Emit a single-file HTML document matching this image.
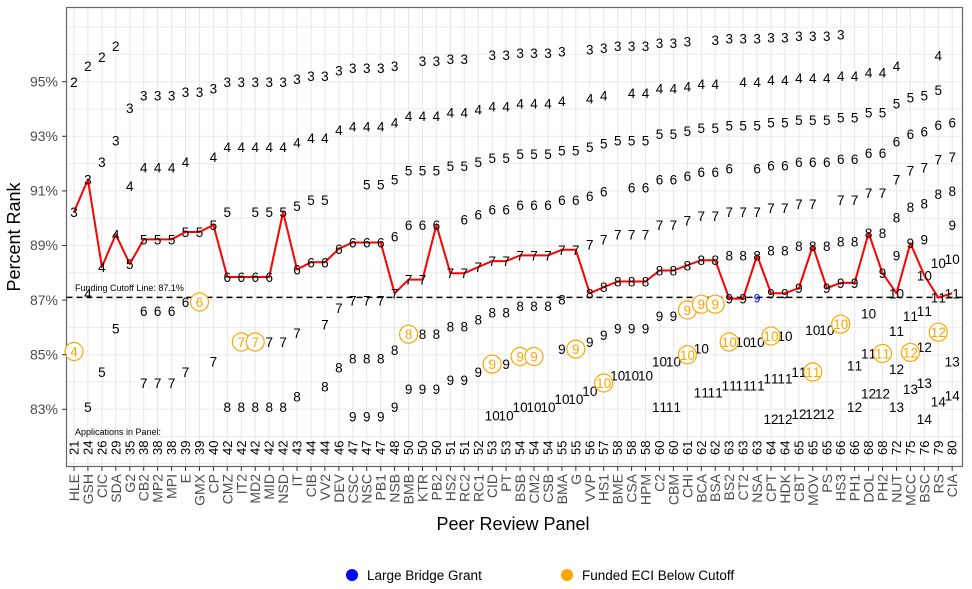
<!DOCTYPE html>
<html><head><meta charset="utf-8"><style>
html,body{margin:0;padding:0;background:#fff;}
svg{display:block;font-family:"Liberation Sans",Arial,sans-serif;}
.l{font-size:13.5px;fill:#000;text-anchor:middle;}
.o{font-size:13.5px;fill:#FFA500;text-anchor:middle;}
.ax{font-size:14px;fill:#4d4d4d;}
.n{font-size:13px;fill:#000;}
</style></head><body>
<svg width="972" height="589" viewBox="0 0 972 589" xmlns="http://www.w3.org/2000/svg">
<rect x="0" y="0" width="972" height="589" fill="#fff"/>
<g stroke="#ebebeb" stroke-width="1">
<line x1="66.5" x2="962.5" y1="27.1" y2="27.1"/><line x1="66.5" x2="962.5" y1="54.4" y2="54.4"/><line x1="66.5" x2="962.5" y1="81.7" y2="81.7"/><line x1="66.5" x2="962.5" y1="109" y2="109"/><line x1="66.5" x2="962.5" y1="136.3" y2="136.3"/><line x1="66.5" x2="962.5" y1="163.6" y2="163.6"/><line x1="66.5" x2="962.5" y1="190.9" y2="190.9"/><line x1="66.5" x2="962.5" y1="218.2" y2="218.2"/><line x1="66.5" x2="962.5" y1="245.5" y2="245.5"/><line x1="66.5" x2="962.5" y1="272.8" y2="272.8"/><line x1="66.5" x2="962.5" y1="300.1" y2="300.1"/><line x1="66.5" x2="962.5" y1="327.4" y2="327.4"/><line x1="66.5" x2="962.5" y1="354.7" y2="354.7"/><line x1="66.5" x2="962.5" y1="382" y2="382"/><line x1="66.5" x2="962.5" y1="409.3" y2="409.3"/><line x1="66.5" x2="962.5" y1="436.6" y2="436.6"/><line x1="66.5" x2="962.5" y1="463.9" y2="463.9"/>
</g>
<g stroke="#e6e6e6" stroke-width="1">
<line y1="7.5" y2="466.5" x1="74" x2="74"/><line y1="7.5" y2="466.5" x1="87.9" x2="87.9"/><line y1="7.5" y2="466.5" x1="101.9" x2="101.9"/><line y1="7.5" y2="466.5" x1="115.8" x2="115.8"/><line y1="7.5" y2="466.5" x1="129.8" x2="129.8"/><line y1="7.5" y2="466.5" x1="143.7" x2="143.7"/><line y1="7.5" y2="466.5" x1="157.6" x2="157.6"/><line y1="7.5" y2="466.5" x1="171.6" x2="171.6"/><line y1="7.5" y2="466.5" x1="185.5" x2="185.5"/><line y1="7.5" y2="466.5" x1="199.5" x2="199.5"/><line y1="7.5" y2="466.5" x1="213.4" x2="213.4"/><line y1="7.5" y2="466.5" x1="227.3" x2="227.3"/><line y1="7.5" y2="466.5" x1="241.3" x2="241.3"/><line y1="7.5" y2="466.5" x1="255.2" x2="255.2"/><line y1="7.5" y2="466.5" x1="269.2" x2="269.2"/><line y1="7.5" y2="466.5" x1="283.1" x2="283.1"/><line y1="7.5" y2="466.5" x1="297" x2="297"/><line y1="7.5" y2="466.5" x1="311" x2="311"/><line y1="7.5" y2="466.5" x1="324.9" x2="324.9"/><line y1="7.5" y2="466.5" x1="338.9" x2="338.9"/><line y1="7.5" y2="466.5" x1="352.8" x2="352.8"/><line y1="7.5" y2="466.5" x1="366.7" x2="366.7"/><line y1="7.5" y2="466.5" x1="380.7" x2="380.7"/><line y1="7.5" y2="466.5" x1="394.6" x2="394.6"/><line y1="7.5" y2="466.5" x1="408.6" x2="408.6"/><line y1="7.5" y2="466.5" x1="422.5" x2="422.5"/><line y1="7.5" y2="466.5" x1="436.4" x2="436.4"/><line y1="7.5" y2="466.5" x1="450.4" x2="450.4"/><line y1="7.5" y2="466.5" x1="464.3" x2="464.3"/><line y1="7.5" y2="466.5" x1="478.3" x2="478.3"/><line y1="7.5" y2="466.5" x1="492.2" x2="492.2"/><line y1="7.5" y2="466.5" x1="506.1" x2="506.1"/><line y1="7.5" y2="466.5" x1="520.1" x2="520.1"/><line y1="7.5" y2="466.5" x1="534" x2="534"/><line y1="7.5" y2="466.5" x1="548" x2="548"/><line y1="7.5" y2="466.5" x1="561.9" x2="561.9"/><line y1="7.5" y2="466.5" x1="575.8" x2="575.8"/><line y1="7.5" y2="466.5" x1="589.8" x2="589.8"/><line y1="7.5" y2="466.5" x1="603.7" x2="603.7"/><line y1="7.5" y2="466.5" x1="617.7" x2="617.7"/><line y1="7.5" y2="466.5" x1="631.6" x2="631.6"/><line y1="7.5" y2="466.5" x1="645.5" x2="645.5"/><line y1="7.5" y2="466.5" x1="659.5" x2="659.5"/><line y1="7.5" y2="466.5" x1="673.4" x2="673.4"/><line y1="7.5" y2="466.5" x1="687.4" x2="687.4"/><line y1="7.5" y2="466.5" x1="701.3" x2="701.3"/><line y1="7.5" y2="466.5" x1="715.2" x2="715.2"/><line y1="7.5" y2="466.5" x1="729.2" x2="729.2"/><line y1="7.5" y2="466.5" x1="743.1" x2="743.1"/><line y1="7.5" y2="466.5" x1="757.1" x2="757.1"/><line y1="7.5" y2="466.5" x1="771" x2="771"/><line y1="7.5" y2="466.5" x1="784.9" x2="784.9"/><line y1="7.5" y2="466.5" x1="798.9" x2="798.9"/><line y1="7.5" y2="466.5" x1="812.8" x2="812.8"/><line y1="7.5" y2="466.5" x1="826.8" x2="826.8"/><line y1="7.5" y2="466.5" x1="840.7" x2="840.7"/><line y1="7.5" y2="466.5" x1="854.6" x2="854.6"/><line y1="7.5" y2="466.5" x1="868.6" x2="868.6"/><line y1="7.5" y2="466.5" x1="882.5" x2="882.5"/><line y1="7.5" y2="466.5" x1="896.5" x2="896.5"/><line y1="7.5" y2="466.5" x1="910.4" x2="910.4"/><line y1="7.5" y2="466.5" x1="924.3" x2="924.3"/><line y1="7.5" y2="466.5" x1="938.3" x2="938.3"/><line y1="7.5" y2="466.5" x1="952.2" x2="952.2"/>
</g>
<rect x="66.5" y="7.5" width="896" height="459" fill="none" stroke="#666" stroke-width="1.2"/>
<line x1="66.5" x2="962.5" y1="297.4" y2="297.4" stroke="#000" stroke-width="1.5" stroke-dasharray="6,4"/>
<text x="75" y="291" style="font-size:9px" fill="#000">Funding Cutoff Line: 87.1%</text>
<text x="75" y="435" style="font-size:9px" fill="#000">Applications in Panel:</text>
<polyline fill="none" stroke="#ff0000" stroke-width="2" stroke-linejoin="round" points="74,212 87.9,179.5 101.9,267 115.8,234.4 129.8,264 143.7,239.4 157.6,239.4 171.6,239.4 185.5,232 199.5,232 213.4,225 227.3,277 241.3,277 255.2,277 269.2,277 283.1,212 297,269.5 311,262.25 324.9,262.25 338.9,248.75 352.8,242.45 366.7,242.45 380.7,242.45 394.6,293.3 408.6,279.6 422.5,279.6 436.4,225 450.4,273.2 464.3,273.2 478.3,267 492.2,261.1 506.1,261.1 520.1,255.4 534,255.4 548,255.4 561.9,249.8 575.8,249.8 589.8,293.25 603.7,287.2 617.7,281.5 631.6,281.5 645.5,281.5 659.5,270.5 673.4,270.5 687.4,265.25 701.3,260.2 715.2,260.2 729.2,298.6 743.1,298.6 757.1,255.3 771,293.3 784.9,293.3 798.9,288 812.8,246 826.8,288 840.7,282.9 854.6,282.9 868.6,233 882.5,273.2 896.5,293.3 910.4,243.2 924.3,275.3 938.3,297.6 952.2,293.25"/>
<text class="l" x="74 87.9 101.9 115.8" y="87 70.8 62 51.1">2222</text>
<text class="l" x="74 87.9 101.9 115.8 129.8 143.7 157.6 171.6 185.5 199.5 213.4 227.3 241.3 255.2 269.2 283.1 297 311 324.9 338.9 352.8 366.7 380.7 394.6 422.5 436.4 450.4 464.3 492.2 506.1 520.1 534 548 561.9 589.8 603.7 617.7 631.6 645.5 659.5 673.4 687.4 715.2 729.2 743.1 757.1 771 784.9 798.9 812.8 826.8 840.7" y="217 184.5 167 145.3 113 100.7 100.7 100.7 97 97 93.5 87 87 87 87 87 84 81.1 81.1 75.7 73.2 73.2 73.2 70.8 66.2 66.2 64.1 64.1 60 60 58.1 58.1 58.1 56.3 54.5 52.8 51.1 51.1 51.1 48 48 46.5 45.1 43.7 43.7 43.7 42.3 42.3 41 41 41 39.7">3333333333333333333333333333333333333333333333333333</text>
<text class="l" x="87.9 101.9 115.8 129.8 143.7 157.6 171.6 185.5 213.4 227.3 241.3 255.2 269.2 283.1 297 311 324.9 338.9 352.8 366.7 380.7 394.6 408.6 422.5 436.4 450.4 464.3 478.3 492.2 506.1 520.1 534 548 561.9 589.8 603.7 631.6 645.5 659.5 673.4 687.4 701.3 715.2 743.1 757.1 771 784.9 798.9 812.8 826.8 840.7 854.6 868.6 882.5 896.5 938.3" y="298.3 272 239.4 191 172.5 172.5 172.5 167 161.8 152 152 152 152 152 147.5 143.2 143.2 135 131.3 131.3 131.3 127.6 120.8 120.8 120.8 117.6 117.6 114.5 111.5 111.5 108.7 108.7 108.7 105.9 103.3 100.7 98.2 98.2 93.5 93.5 91.3 89.1 89.1 87 87 85 85 83 83 83 81.1 81.1 77.5 77.5 70.8 60.7">44444444444444444444444444444444444444444444444444444444</text>
<text class="l" x="87.9 101.9 115.8 129.8 143.7 157.6 171.6 185.5 199.5 213.4 227.3 255.2 269.2 283.1 297 311 324.9 366.7 380.7 394.6 408.6 422.5 436.4 450.4 464.3 478.3 492.2 506.1 520.1 534 548 561.9 575.8 589.8 603.7 617.7 631.6 645.5 659.5 673.4 687.4 701.3 715.2 729.2 743.1 757.1 771 784.9 798.9 812.8 826.8 840.7 854.6 868.6 882.5 896.5 910.4 924.3 938.3" y="412 377 333.6 269 244.4 244.4 244.4 237 237 230 217 217 217 217 211 205.2 205.2 189.4 189.4 184.5 175.4 175.4 175.4 171.1 171.1 167 163 163 159.2 159.2 159.2 155.6 155.6 152 148.6 145.3 145.3 145.3 139 139 136 133.1 133.1 130.3 130.3 130.3 127.6 127.6 125 125 125 122.4 122.4 117.6 117.6 108.7 102.6 100.7 95.2">55555555555555555555555555555555555555555555555555555555555</text>
<text class="l" x="143.7 157.6 171.6 185.5 227.3 241.3 255.2 269.2 297 311 324.9 338.9 352.8 366.7 380.7 394.6 408.6 422.5 436.4 464.3 478.3 492.2 506.1 520.1 534 548 561.9 575.8 589.8 603.7 631.6 645.5 659.5 673.4 687.4 701.3 715.2 729.2 757.1 771 784.9 798.9 812.8 826.8 840.7 854.6 868.6 882.5 896.5 910.4 924.3 938.3 952.2" y="316.2 316.2 316.2 307 282 282 282 282 274.5 267.3 267.3 253.8 247.5 247.5 247.5 241.4 230 230 230 224.7 219.5 214.6 214.6 209.8 209.8 209.8 205.2 205.2 200.8 196.5 192.4 192.4 184.5 184.5 180.8 177.2 177.2 173.7 173.7 170.3 170.3 167 167 167 163.8 163.8 157.8 157.8 146.6 139 136.6 129.8 127.6">66666666666666666666666666666666666666666666666666666</text>
<text class="l" x="143.7 157.6 171.6 185.5 213.4 269.2 283.1 297 324.9 338.9 352.8 366.7 380.7 394.6 408.6 422.5 450.4 464.3 478.3 492.2 506.1 520.1 534 548 561.9 575.8 589.8 603.7 617.7 631.6 645.5 659.5 673.4 687.4 701.3 715.2 729.2 743.1 757.1 771 784.9 798.9 812.8 840.7 854.6 868.6 882.5 896.5 910.4 924.3 938.3 952.2" y="388 388 388 377 366.5 347 347 338 329.3 313.1 305.5 305.5 305.5 298.3 284.6 284.6 278.2 278.2 272 266.1 266.1 260.4 260.4 260.4 254.8 254.8 249.5 244.3 239.4 239.4 239.4 230 230 225.5 221.2 221.2 217 217 217 213 213 209 209 205.2 205.2 197.9 197.9 184.5 175.4 172.5 164.4 161.8">7777777777777777777777777777777777777777777777777777</text>
<text class="l" x="227.3 241.3 255.2 269.2 283.1 297 324.9 338.9 352.8 366.7 380.7 394.6 422.5 436.4 450.4 464.3 478.3 492.2 506.1 520.1 534 548 561.9 589.8 603.7 617.7 631.6 645.5 659.5 673.4 687.4 701.3 715.2 729.2 743.1 757.1 771 784.9 798.9 812.8 826.8 840.7 854.6 868.6 882.5 896.5 910.4 924.3 938.3 952.2" y="412 412 412 412 412 401.4 391.4 372.5 363.6 363.6 363.6 355.2 339.2 339.2 331.7 331.7 324.5 317.6 317.6 310.9 310.9 310.9 304.5 298.3 292.2 286.5 286.5 286.5 275.5 275.5 270.3 265.2 265.2 260.3 260.3 260.3 255.6 255.6 251 251 251 246.5 246.5 238 238 222.4 211.8 208.4 198.9 195.9">88888888888888888888888888888888888888888888888888</text>
<text class="l" x="352.8 366.7 380.7 394.6 408.6 422.5 436.4 450.4 464.3 478.3 506.1 561.9 589.8 603.7 617.7 631.6 645.5 659.5 673.4 729.2 743.1 771 784.9 798.9 826.8 840.7 854.6 882.5 896.5 910.4 924.3 952.2" y="421.7 421.7 421.7 412 393.8 393.8 393.8 385.2 385.2 377 369.1 354.1 347 340.1 333.6 333.6 333.6 321 321 303.6 303.6 298.3 298.3 293 293 287.9 287.9 278.2 260.4 248.2 244.4 230">99999999999999999999999999999999</text>
<text class="l" x="488.4 496 502.3 509.9 516.3 523.9 530.2 537.8 544.2 551.8 558.1 565.7 572 579.6 586 593.6 613.9 621.5 627.8 635.4 641.7 649.3 655.7 663.3 669.6 677.2 697.5 705.1 739.3 746.9 753.3 760.9 781.1 788.7 809 816.6 823 830.6 864.8 872.4 892.7 900.3 920.5 928.1 934.5 942.1 948.4 956" y="420.6 420.6 420.6 420.6 412 412 412 412 412 412 403.8 403.8 403.8 403.8 395.75 395.75 380.6 380.6 380.6 380.6 380.6 380.6 366.5 366.5 366.5 366.5 353.3 353.3 347 347 347 347 341 341 335 335 335 335 318.4 318.4 298.3 298.3 280.3 280.3 268 268 264.1 264.1">101010101010101010101010101010101010101010101010</text>
<text class="l" x="655.7 663.3 669.6 677.2 697.5 705.1 711.4 719 725.4 733 739.3 746.9 753.3 760.9 767.2 774.8 781.1 788.7 795.1 802.7 850.8 858.4 864.8 872.4 892.7 900.3 906.6 914.2 920.5 928.1 934.5 942.1 948.4 956" y="412 412 412 412 397.3 397.3 397.3 397.3 390.3 390.3 390.3 390.3 390.3 390.3 383.6 383.6 383.6 383.6 377 377 370.6 370.6 358.5 358.5 336.2 336.2 321 321 316.2 316.2 302.6 302.6 298.25 298.25">1111111111111111111111111111111111</text>
<text class="l" x="767.2 774.8 781.1 788.7 795.1 802.7 809 816.6 823 830.6 850.8 858.4 864.8 872.4 878.7 886.3 892.7 900.3 920.5 928.1" y="424 424 424 424 419 419 419 419 419 419 412 412 398.6 398.6 398.6 398.6 374.1 374.1 352.1 352.1">12121212121212121212</text>
<text class="l" x="892.7 900.3 906.6 914.2 920.5 928.1 948.4 956" y="412 412 393.8 393.8 388 388 366.5 366.5">13131313</text>
<text class="l" x="920.5 928.1 934.5 942.1 948.4 956" y="424 424 406.3 406.3 400.6 400.6">141414</text>
<g fill="#fff" stroke="#FFA500" stroke-width="1.2">
<circle cx="74" cy="351.5" r="9"/><circle cx="199.5" cy="302" r="9"/><circle cx="241.3" cy="342" r="9"/><circle cx="255.2" cy="342" r="9"/><circle cx="408.6" cy="334.2" r="9"/><circle cx="492.2" cy="364.1" r="9"/><circle cx="520.1" cy="356.5" r="9"/><circle cx="534" cy="356.5" r="9"/><circle cx="575.8" cy="349.1" r="9"/><circle cx="603.7" cy="383" r="9"/><circle cx="687.4" cy="310" r="9"/><circle cx="701.3" cy="304.2" r="9"/><circle cx="715.2" cy="304.2" r="9"/><circle cx="687.4" cy="354.75" r="9"/><circle cx="729.2" cy="342" r="9"/><circle cx="771" cy="336" r="9"/><circle cx="840.7" cy="324.2" r="9"/><circle cx="812.8" cy="372" r="9"/><circle cx="882.5" cy="353.5" r="9"/><circle cx="910.4" cy="352.4" r="9"/><circle cx="938.3" cy="332.2" r="9"/>
</g>
<text class="o" x="74 199.5 241.3 255.2 408.6 492.2 520.1 534 575.8 687.4 701.3 715.2" y="356.5 307 347 347 339.2 369.1 361.5 361.5 354.1 315 309.2 309.2">467789999999</text>
<text class="o" x="599.9 607.5 683.6 691.2 725.4 733 767.2 774.8 837 844.5 809 816.6 878.7 886.3 906.6 914.2 934.5 942.1" y="388 388 359.75 359.75 347 347 341 341 329.2 329.2 377 377 358.5 358.5 357.4 357.4 337.2 337.2">101010101011111212</text>
<text x="757.1" y="302.6" style="font-size:12px" fill="#0000ff" text-anchor="middle">9</text>
<g stroke="#333" stroke-width="1">
<line x1="62" x2="66.5" y1="81.7" y2="81.7"/><line x1="62" x2="66.5" y1="136.3" y2="136.3"/><line x1="62" x2="66.5" y1="190.9" y2="190.9"/><line x1="62" x2="66.5" y1="245.5" y2="245.5"/><line x1="62" x2="66.5" y1="300.1" y2="300.1"/><line x1="62" x2="66.5" y1="354.7" y2="354.7"/><line x1="62" x2="66.5" y1="409.3" y2="409.3"/>
</g>
<g class="ax" text-anchor="end">
<text x="58" y="86.5">95%</text><text x="58" y="141">93%</text><text x="58" y="195.6">91%</text><text x="58" y="250.2">89%</text><text x="58" y="304.8">87%</text><text x="58" y="359.4">85%</text><text x="58" y="414">83%</text>
</g>
<g stroke="#333" stroke-width="1">
<line y1="466.5" y2="471" x1="74" x2="74"/><line y1="466.5" y2="471" x1="87.9" x2="87.9"/><line y1="466.5" y2="471" x1="101.9" x2="101.9"/><line y1="466.5" y2="471" x1="115.8" x2="115.8"/><line y1="466.5" y2="471" x1="129.8" x2="129.8"/><line y1="466.5" y2="471" x1="143.7" x2="143.7"/><line y1="466.5" y2="471" x1="157.6" x2="157.6"/><line y1="466.5" y2="471" x1="171.6" x2="171.6"/><line y1="466.5" y2="471" x1="185.5" x2="185.5"/><line y1="466.5" y2="471" x1="199.5" x2="199.5"/><line y1="466.5" y2="471" x1="213.4" x2="213.4"/><line y1="466.5" y2="471" x1="227.3" x2="227.3"/><line y1="466.5" y2="471" x1="241.3" x2="241.3"/><line y1="466.5" y2="471" x1="255.2" x2="255.2"/><line y1="466.5" y2="471" x1="269.2" x2="269.2"/><line y1="466.5" y2="471" x1="283.1" x2="283.1"/><line y1="466.5" y2="471" x1="297" x2="297"/><line y1="466.5" y2="471" x1="311" x2="311"/><line y1="466.5" y2="471" x1="324.9" x2="324.9"/><line y1="466.5" y2="471" x1="338.9" x2="338.9"/><line y1="466.5" y2="471" x1="352.8" x2="352.8"/><line y1="466.5" y2="471" x1="366.7" x2="366.7"/><line y1="466.5" y2="471" x1="380.7" x2="380.7"/><line y1="466.5" y2="471" x1="394.6" x2="394.6"/><line y1="466.5" y2="471" x1="408.6" x2="408.6"/><line y1="466.5" y2="471" x1="422.5" x2="422.5"/><line y1="466.5" y2="471" x1="436.4" x2="436.4"/><line y1="466.5" y2="471" x1="450.4" x2="450.4"/><line y1="466.5" y2="471" x1="464.3" x2="464.3"/><line y1="466.5" y2="471" x1="478.3" x2="478.3"/><line y1="466.5" y2="471" x1="492.2" x2="492.2"/><line y1="466.5" y2="471" x1="506.1" x2="506.1"/><line y1="466.5" y2="471" x1="520.1" x2="520.1"/><line y1="466.5" y2="471" x1="534" x2="534"/><line y1="466.5" y2="471" x1="548" x2="548"/><line y1="466.5" y2="471" x1="561.9" x2="561.9"/><line y1="466.5" y2="471" x1="575.8" x2="575.8"/><line y1="466.5" y2="471" x1="589.8" x2="589.8"/><line y1="466.5" y2="471" x1="603.7" x2="603.7"/><line y1="466.5" y2="471" x1="617.7" x2="617.7"/><line y1="466.5" y2="471" x1="631.6" x2="631.6"/><line y1="466.5" y2="471" x1="645.5" x2="645.5"/><line y1="466.5" y2="471" x1="659.5" x2="659.5"/><line y1="466.5" y2="471" x1="673.4" x2="673.4"/><line y1="466.5" y2="471" x1="687.4" x2="687.4"/><line y1="466.5" y2="471" x1="701.3" x2="701.3"/><line y1="466.5" y2="471" x1="715.2" x2="715.2"/><line y1="466.5" y2="471" x1="729.2" x2="729.2"/><line y1="466.5" y2="471" x1="743.1" x2="743.1"/><line y1="466.5" y2="471" x1="757.1" x2="757.1"/><line y1="466.5" y2="471" x1="771" x2="771"/><line y1="466.5" y2="471" x1="784.9" x2="784.9"/><line y1="466.5" y2="471" x1="798.9" x2="798.9"/><line y1="466.5" y2="471" x1="812.8" x2="812.8"/><line y1="466.5" y2="471" x1="826.8" x2="826.8"/><line y1="466.5" y2="471" x1="840.7" x2="840.7"/><line y1="466.5" y2="471" x1="854.6" x2="854.6"/><line y1="466.5" y2="471" x1="868.6" x2="868.6"/><line y1="466.5" y2="471" x1="882.5" x2="882.5"/><line y1="466.5" y2="471" x1="896.5" x2="896.5"/><line y1="466.5" y2="471" x1="910.4" x2="910.4"/><line y1="466.5" y2="471" x1="924.3" x2="924.3"/><line y1="466.5" y2="471" x1="938.3" x2="938.3"/><line y1="466.5" y2="471" x1="952.2" x2="952.2"/>
</g>
<g class="ax" text-anchor="end">
<text transform="translate(79,474) rotate(-90)">HLE</text><text transform="translate(92.9,474) rotate(-90)">GSH</text><text transform="translate(106.9,474) rotate(-90)">CIC</text><text transform="translate(120.8,474) rotate(-90)">SDA</text><text transform="translate(134.8,474) rotate(-90)">G2</text><text transform="translate(148.7,474) rotate(-90)">CB2</text><text transform="translate(162.6,474) rotate(-90)">MP2</text><text transform="translate(176.6,474) rotate(-90)">MPI</text><text transform="translate(190.5,474) rotate(-90)">E</text><text transform="translate(204.5,474) rotate(-90)">GMX</text><text transform="translate(218.4,474) rotate(-90)">CP</text><text transform="translate(232.3,474) rotate(-90)">CMZ</text><text transform="translate(246.3,474) rotate(-90)">IT2</text><text transform="translate(260.2,474) rotate(-90)">MD2</text><text transform="translate(274.2,474) rotate(-90)">MID</text><text transform="translate(288.1,474) rotate(-90)">NSD</text><text transform="translate(302,474) rotate(-90)">IT</text><text transform="translate(316,474) rotate(-90)">CIB</text><text transform="translate(329.9,474) rotate(-90)">VV2</text><text transform="translate(343.9,474) rotate(-90)">DEV</text><text transform="translate(357.8,474) rotate(-90)">CSC</text><text transform="translate(371.7,474) rotate(-90)">NSC</text><text transform="translate(385.7,474) rotate(-90)">PB1</text><text transform="translate(399.6,474) rotate(-90)">NSB</text><text transform="translate(413.6,474) rotate(-90)">BMB</text><text transform="translate(427.5,474) rotate(-90)">KTR</text><text transform="translate(441.4,474) rotate(-90)">PB2</text><text transform="translate(455.4,474) rotate(-90)">HS2</text><text transform="translate(469.3,474) rotate(-90)">RC2</text><text transform="translate(483.3,474) rotate(-90)">RC1</text><text transform="translate(497.2,474) rotate(-90)">CID</text><text transform="translate(511.1,474) rotate(-90)">PT</text><text transform="translate(525.1,474) rotate(-90)">BSB</text><text transform="translate(539,474) rotate(-90)">CM2</text><text transform="translate(553,474) rotate(-90)">CSB</text><text transform="translate(566.9,474) rotate(-90)">BMA</text><text transform="translate(580.8,474) rotate(-90)">G</text><text transform="translate(594.8,474) rotate(-90)">VVP</text><text transform="translate(608.7,474) rotate(-90)">HS1</text><text transform="translate(622.7,474) rotate(-90)">BME</text><text transform="translate(636.6,474) rotate(-90)">CSA</text><text transform="translate(650.5,474) rotate(-90)">HPM</text><text transform="translate(664.5,474) rotate(-90)">C2</text><text transform="translate(678.4,474) rotate(-90)">CBM</text><text transform="translate(692.4,474) rotate(-90)">CHI</text><text transform="translate(706.3,474) rotate(-90)">BCA</text><text transform="translate(720.2,474) rotate(-90)">BSA</text><text transform="translate(734.2,474) rotate(-90)">BS2</text><text transform="translate(748.1,474) rotate(-90)">CT2</text><text transform="translate(762.1,474) rotate(-90)">NSA</text><text transform="translate(776,474) rotate(-90)">CPT</text><text transform="translate(789.9,474) rotate(-90)">HDK</text><text transform="translate(803.9,474) rotate(-90)">CBT</text><text transform="translate(817.8,474) rotate(-90)">MOV</text><text transform="translate(831.8,474) rotate(-90)">PS</text><text transform="translate(845.7,474) rotate(-90)">HS3</text><text transform="translate(859.6,474) rotate(-90)">PH1</text><text transform="translate(873.6,474) rotate(-90)">DOL</text><text transform="translate(887.5,474) rotate(-90)">PH2</text><text transform="translate(901.5,474) rotate(-90)">NUT</text><text transform="translate(915.4,474) rotate(-90)">MCC</text><text transform="translate(929.3,474) rotate(-90)">BSC</text><text transform="translate(943.3,474) rotate(-90)">RS</text><text transform="translate(957.2,474) rotate(-90)">CIA</text>
</g>
<g class="n">
<text transform="translate(78.5,455) rotate(-90)">21</text><text transform="translate(92.4,455) rotate(-90)">24</text><text transform="translate(106.4,455) rotate(-90)">26</text><text transform="translate(120.3,455) rotate(-90)">29</text><text transform="translate(134.3,455) rotate(-90)">35</text><text transform="translate(148.2,455) rotate(-90)">38</text><text transform="translate(162.1,455) rotate(-90)">38</text><text transform="translate(176.1,455) rotate(-90)">38</text><text transform="translate(190,455) rotate(-90)">39</text><text transform="translate(204,455) rotate(-90)">39</text><text transform="translate(217.9,455) rotate(-90)">40</text><text transform="translate(231.8,455) rotate(-90)">42</text><text transform="translate(245.8,455) rotate(-90)">42</text><text transform="translate(259.7,455) rotate(-90)">42</text><text transform="translate(273.7,455) rotate(-90)">42</text><text transform="translate(287.6,455) rotate(-90)">42</text><text transform="translate(301.5,455) rotate(-90)">43</text><text transform="translate(315.5,455) rotate(-90)">44</text><text transform="translate(329.4,455) rotate(-90)">44</text><text transform="translate(343.4,455) rotate(-90)">46</text><text transform="translate(357.3,455) rotate(-90)">47</text><text transform="translate(371.2,455) rotate(-90)">47</text><text transform="translate(385.2,455) rotate(-90)">47</text><text transform="translate(399.1,455) rotate(-90)">48</text><text transform="translate(413.1,455) rotate(-90)">50</text><text transform="translate(427,455) rotate(-90)">50</text><text transform="translate(440.9,455) rotate(-90)">50</text><text transform="translate(454.9,455) rotate(-90)">51</text><text transform="translate(468.8,455) rotate(-90)">51</text><text transform="translate(482.8,455) rotate(-90)">52</text><text transform="translate(496.7,455) rotate(-90)">53</text><text transform="translate(510.6,455) rotate(-90)">53</text><text transform="translate(524.6,455) rotate(-90)">54</text><text transform="translate(538.5,455) rotate(-90)">54</text><text transform="translate(552.5,455) rotate(-90)">54</text><text transform="translate(566.4,455) rotate(-90)">55</text><text transform="translate(580.3,455) rotate(-90)">55</text><text transform="translate(594.3,455) rotate(-90)">56</text><text transform="translate(608.2,455) rotate(-90)">57</text><text transform="translate(622.2,455) rotate(-90)">58</text><text transform="translate(636.1,455) rotate(-90)">58</text><text transform="translate(650,455) rotate(-90)">58</text><text transform="translate(664,455) rotate(-90)">60</text><text transform="translate(677.9,455) rotate(-90)">60</text><text transform="translate(691.9,455) rotate(-90)">61</text><text transform="translate(705.8,455) rotate(-90)">62</text><text transform="translate(719.7,455) rotate(-90)">62</text><text transform="translate(733.7,455) rotate(-90)">63</text><text transform="translate(747.6,455) rotate(-90)">63</text><text transform="translate(761.6,455) rotate(-90)">63</text><text transform="translate(775.5,455) rotate(-90)">64</text><text transform="translate(789.4,455) rotate(-90)">64</text><text transform="translate(803.4,455) rotate(-90)">65</text><text transform="translate(817.3,455) rotate(-90)">65</text><text transform="translate(831.3,455) rotate(-90)">65</text><text transform="translate(845.2,455) rotate(-90)">66</text><text transform="translate(859.1,455) rotate(-90)">66</text><text transform="translate(873.1,455) rotate(-90)">68</text><text transform="translate(887,455) rotate(-90)">68</text><text transform="translate(901,455) rotate(-90)">72</text><text transform="translate(914.9,455) rotate(-90)">75</text><text transform="translate(928.8,455) rotate(-90)">76</text><text transform="translate(942.8,455) rotate(-90)">79</text><text transform="translate(956.7,455) rotate(-90)">80</text>
</g>
<text transform="translate(20,237) rotate(-90)" text-anchor="middle" style="font-size:18px" fill="#000">Percent Rank</text>
<text x="513" y="530" text-anchor="middle" style="font-size:18px" fill="#000">Peer Review Panel</text>
<circle cx="352" cy="575" r="6" fill="#0000ff"/>
<text x="367" y="580" style="font-size:13.5px" fill="#000">Large Bridge Grant</text>
<circle cx="567" cy="575" r="6" fill="#FFA500"/>
<text x="582" y="580" style="font-size:13.5px" fill="#000">Funded ECI Below Cutoff</text>
</svg>
</body></html>
